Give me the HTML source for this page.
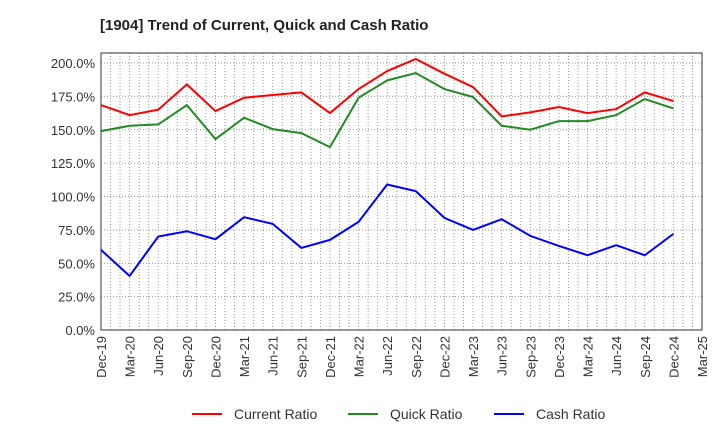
<!DOCTYPE html>
<html><head><meta charset="utf-8"><style>
body{margin:0;background:#fff;font-family:"Liberation Sans",sans-serif;}
</style></head><body>
<svg id="c" width="720" height="440" xmlns="http://www.w3.org/2000/svg">
<text x="100" y="30" font-size="15" font-weight="bold" fill="#222">[1904]  Trend of Current, Quick and Cash Ratio</text>
</svg>
<script>
const xLabels=["Dec-19","Mar-20","Jun-20","Sep-20","Dec-20","Mar-21","Jun-21","Sep-21","Dec-21","Mar-22","Jun-22","Sep-22","Dec-22","Mar-23","Jun-23","Sep-23","Dec-23","Mar-24","Jun-24","Sep-24","Dec-24","Mar-25"];
const yTicks=[0,25,50,75,100,125,150,175,200];
const currentRatio=[168.5,161,165,184,164,174,176,178,162.5,180.5,194,203,192,182,160,163,167,162.5,165.5,178,171.5];
const quickRatio=[149,153,154,168.5,143,159,150.5,147.5,137,174,187,192.5,180.5,174.5,153,150,156.5,156.5,161,173,166];
const cashRatio=[60,40.5,70,74,68,84.5,79.5,61.5,67.5,81,109,104,84,75,83,70.5,63,56,63.5,56,72];
const L=101,R=702,T=53,B=330,YMAX=207.5;
const svg=document.getElementById('c');const NS='http://www.w3.org/2000/svg';
const nq=xLabels.length-1;
const xs=i=>L+(R-L)*i/nq;
const ys=v=>B-(B-T)*v/YMAX;
function mk(t,a){const e=document.createElementNS(NS,t);for(const k in a)e.setAttribute(k,a[k]);svg.appendChild(e);return e;}
// vertical grid monthly
for(let m=1;m<nq*3;m++){const x=L+(R-L)*m/(nq*3);
const g=mk('line',{x1:x,x2:x,y1:T,y2:B,stroke:'#999','stroke-dasharray':'1,2','stroke-width':1});

}
yTicks.forEach(v=>{const y=ys(v);
const g=mk('line',{x1:L,x2:R,y1:y,y2:y,stroke:'#999','stroke-dasharray':'1,2','stroke-width':1});


const t=mk('text',{x:L-6,y:y+5,'text-anchor':'end','font-size':13,fill:'#333'});t.textContent=v.toFixed(1)+'%';

});
xLabels.forEach((lb,i)=>{const x=xs(i);
const t=mk('text',{x:0,y:0,'text-anchor':'end','font-size':13,fill:'#333',transform:`translate(${x+5},${B+6}) rotate(-90)`});t.textContent=lb;

});
const fr=mk('rect',{x:L,y:T,width:R-L,height:B-T,fill:'none',stroke:'#333','stroke-width':1});


[[currentRatio,'#f00','current-ratio-line'],[quickRatio,'#228b22','quick-ratio-line'],[cashRatio,'#00f','cash-ratio-line']].forEach(([d,c,n])=>{
const p=mk('polyline',{points:d.map((v,i)=>xs(i)+','+ys(v)).join(' '),fill:'none',stroke:c,'stroke-width':2});

});
[['Current Ratio','#f00',192],['Quick Ratio','#228b22',348],['Cash Ratio','#00f',494]].forEach(([lb,c,x])=>{
const l=mk('line',{x1:x,x2:x+30,y1:414,y2:414,stroke:c,'stroke-width':2});


const t=mk('text',{x:x+42,y:419,'font-size':14,fill:'#333'});t.textContent=lb;

});
</script>
</body></html>
